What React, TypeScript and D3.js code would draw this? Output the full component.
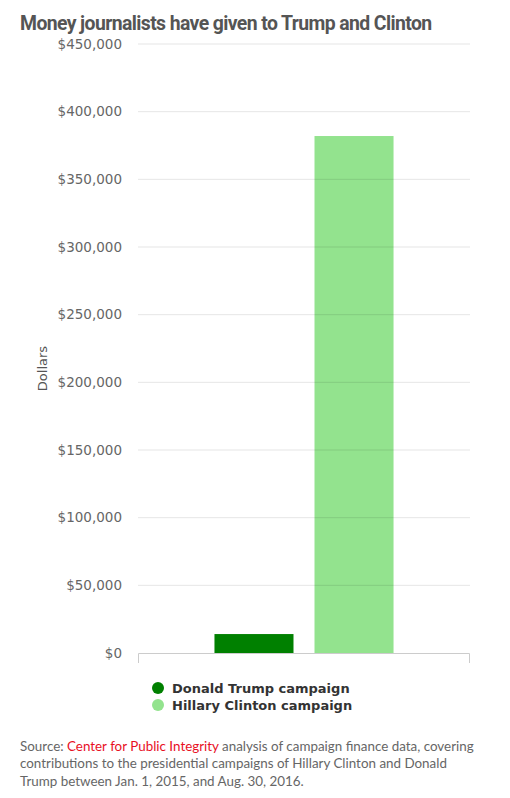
import React from "react";
import * as d3 from "d3";

const categories = ["Campaigns"];
const seriesNames = ["Donald Trump campaign", "Hillary Clinton campaign"];
const seriesValues = [14000, 382000];
const seriesColors = ["#008000", "#93e38e"];
const yTicks = [0, 50000, 100000, 150000, 200000, 250000, 300000, 350000, 400000, 450000];

const W = 510;
const H = 798;
const plot = { left: 138, right: 470, top: 44, bottom: 653 };

export default function App() {
  const y = d3.scaleLinear().domain([0, 450000]).range([plot.bottom, plot.top]);
  const x0 = d3.scaleBand<string>().domain(categories).range([plot.left, plot.right]).paddingInner(0).paddingOuter(0.427);
  const x1 = d3.scaleBand<string>().domain(seriesNames).range([0, x0.bandwidth()]).paddingInner(0.21).paddingOuter(0);
  const fmt = (v: number) => "$" + d3.format(",")(v);
  const sans = "'DejaVu Sans', Verdana, sans-serif";

  return (
    <svg width={W} height={H} style={{ position: "absolute", left: 0, top: 0, background: "#fff" }}>
      <text x={20} y={30} fontFamily="Roboto, sans-serif" fontWeight={700} fontSize={19.4} fill="#555" letterSpacing={-0.6}>
        Money journalists have given to Trump and Clinton
      </text>
      {/* bars */}
      {categories.map((c) =>
        seriesNames.map((s, i) => (
          <rect
            key={c + s}
            x={(x0(c) ?? 0) + (x1(s) ?? 0)}
            y={y(seriesValues[i])}
            width={x1.bandwidth()}
            height={y(0) - y(seriesValues[i])}
            fill={seriesColors[i]}
          />
        ))
      )}
      {/* grid + y labels */}
      {yTicks.map((t) => (
        <g key={t}>
          {t > 0 && (
            <line x1={plot.left} x2={plot.right} y1={y(t)} y2={y(t)} stroke="#000" strokeOpacity={0.1} strokeWidth={1} />
          )}
          <text x={122} y={y(t)} dy="0.35em" textAnchor="end" fontFamily={sans} fontSize={13.5} fill="#666">
            {fmt(t)}
          </text>
        </g>
      ))}
      {/* x axis */}
      <path
        d={`M${plot.left + 0.5},${plot.bottom + 10}V${plot.bottom + 0.5}H${plot.right - 0.5}V${plot.bottom + 10}`}
        fill="none"
        stroke="#ccc"
        strokeWidth={1}
      />
      <text
        transform={`translate(47,${(plot.top + plot.bottom) / 2 + 20}) rotate(-90)`}
        textAnchor="middle"
        fontFamily={sans}
        fontSize={13}
        fill="#555"
      >
        Dollars
      </text>
      {/* legend */}
      {seriesNames.map((s, i) => (
        <g key={s} transform={`translate(158,${688 + i * 17})`}>
          <circle r={6} fill={seriesColors[i]} />
          <text x={14} dy="0.35em" fontFamily={sans} fontWeight={700} fontSize={13} fill="#333">
            {s}
          </text>
        </g>
      ))}
      {/* source */}
      <g fontFamily="Lato, 'Open Sans', sans-serif" fontSize={13.4} fill="#666">
        <text x={20} y={751}>
          Source: <tspan fill="#e8101f">Center for Public Integrity</tspan> analysis of campaign finance data, covering
        </text>
        <text x={20} y={768}>
          contributions to the presidential campaigns of Hillary Clinton and Donald
        </text>
        <text x={20} y={786}>
          Trump between Jan. 1, 2015, and Aug. 30, 2016.
        </text>
      </g>
    </svg>
  );
}
